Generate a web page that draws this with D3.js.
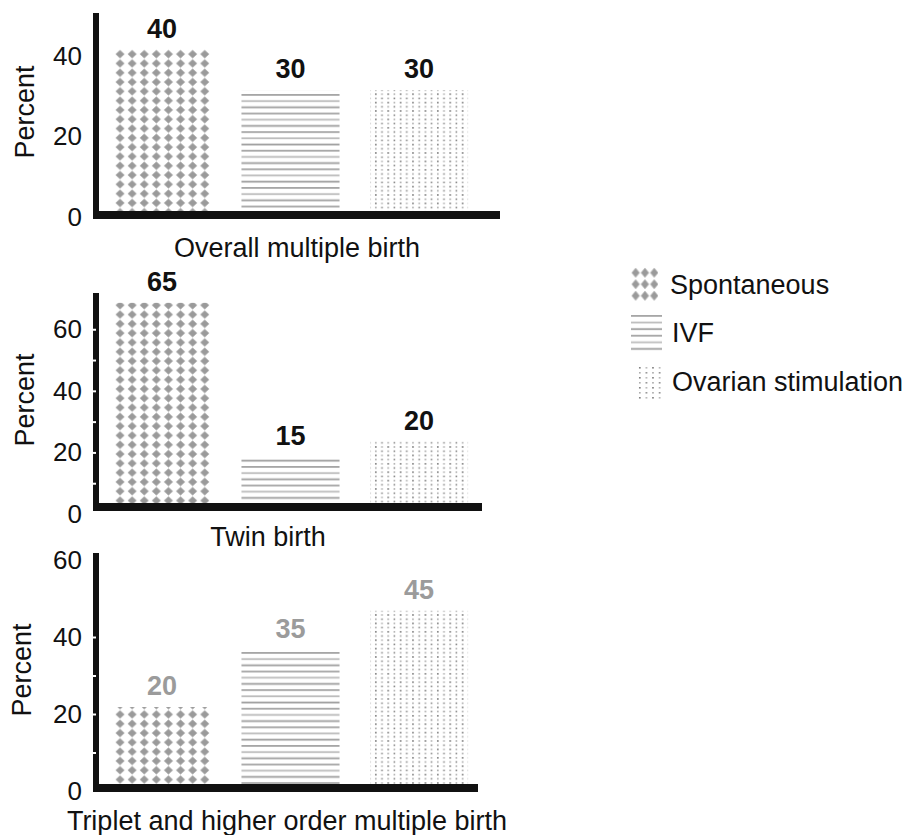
<!DOCTYPE html>
<html>
<head>
<meta charset="utf-8">
<script src="https://cdn.jsdelivr.net/npm/d3@7/dist/d3.min.js"></script>
<style>
  html, body { margin: 0; padding: 0; background: #ffffff; }
  svg { display: block; font-family: "Liberation Sans", Arial, Helvetica, sans-serif; }
</style>
</head>
<body>
<div id="chart"></div>
<script>
// Percent of births by conception type, three birth-order groups
const categories = ["Spontaneous", "IVF", "Ovarian stimulation"];
const overallValues = [40, 30, 30];
const twinValues = [65, 15, 20];
const tripletValues = [20, 35, 45];

const overallTicks = [0, 20, 40];
const twinTicks = [0, 20, 40, 60];
const tripletTicks = [0, 20, 40, 60];
const overallNotches = [];
const twinNotches = [10, 20, 30, 40, 50, 60];
const tripletNotches = [10, 20, 30, 40];

const panelTitles = ["Overall multiple birth", "Twin birth", "Triplet and higher order multiple birth"];
const axisTitle = "Percent";

const W = 914, H = 835;
const ink = "#111111";

const svg = d3.select("#chart").append("svg")
  .attr("width", W).attr("height", H);

// ---- fill patterns for the three conception types ----
const defs = svg.append("defs");

function diamondPattern(id, px, py, w, h, hw, hh) {
  const p = defs.append("pattern")
    .attr("id", id).attr("patternUnits", "userSpaceOnUse")
    .attr("x", px).attr("y", py).attr("width", w).attr("height", h);
  const cx = w / 2, cy = h / 2;
  p.append("path")
    .attr("d", `M${cx},${cy - hh} L${cx + hw},${cy} L${cx},${cy + hh} L${cx - hw},${cy} Z`)
    .attr("fill", "#9a9a9a")
    .attr("stroke", "#b4b4b4").attr("stroke-width", 0.8).attr("stroke-linejoin", "round");
}

// Spontaneous: grey diamond lattice (bars and legend key)
diamondPattern("pat-spont", 114, 49.5, 12.1, 9.3, 4.3, 3.9);
diamondPattern("pat-spont-key", 631, 267, 9.3, 11.5, 3.9, 4.6);

// IVF: thin horizontal rules
function rulePattern(id, y0, gap) {
  const p = defs.append("pattern")
    .attr("id", id).attr("patternUnits", "userSpaceOnUse")
    .attr("x", 0).attr("y", y0).attr("width", 20).attr("height", gap * 3);
  [["#a6a6a6", 0], ["#bcbcbc", gap], ["#9e9e9e", gap * 2]].forEach(([c, y]) => {
    p.append("rect").attr("x", 0).attr("y", y).attr("width", 20).attr("height", 1.8).attr("fill", c);
  });
}
rulePattern("pat-ivf", 1, 6.2);
rulePattern("pat-ivf-key", 315, 6.6);

// Ovarian stimulation: fine dot grid
function dotPattern(id, px, py, w, h) {
  const p = defs.append("pattern")
    .attr("id", id).attr("patternUnits", "userSpaceOnUse")
    .attr("x", px).attr("y", py).attr("width", w).attr("height", h);
  [[1, 1, "#7a7a7a"], [w / 2 + 1, 1, "#b0b0b0"], [1, h / 2 + 1, "#a8a8a8"], [w / 2 + 1, h / 2 + 1, "#8a8a8a"]]
    .forEach(([x, y, c]) => {
      p.append("rect").attr("x", x).attr("y", y).attr("width", 1.6).attr("height", 1.6).attr("fill", c);
    });
}
dotPattern("pat-ova", 374, 0, 12.4, 8.4);
dotPattern("pat-ova-key", 638, 366, 13.2, 10);

const fills = ["url(#pat-spont)", "url(#pat-ivf)", "url(#pat-ova)"];
const keyFills = ["url(#pat-spont-key)", "url(#pat-ivf-key)", "url(#pat-ova-key)"];

// ---- panel layout ----
const panels = [
  { values: overallValues, ticks: overallTicks, notches: overallNotches, title: panelTitles[0],
    base: 211, top: 13, max: 49.1, xEnd: 500, tickShift: 6, titleX: 297, titleY: 248,
    percentX: 25, percentY: 112, valueColor: ink },
  { values: twinValues, ticks: twinTicks, notches: twinNotches, title: panelTitles[1],
    base: 503, top: 293, max: 68.2, xEnd: 482, tickShift: 11, titleX: 268, titleY: 537,
    percentX: 25, percentY: 400, valueColor: ink },
  { values: tripletValues, ticks: tripletTicks, notches: tripletNotches, title: panelTitles[2],
    base: 784, top: 553, max: 60, xEnd: 478, tickShift: 7, titleX: 287, titleY: 821,
    percentX: 22, percentY: 670, valueColor: "#9b9b9b" }
];

const axisX = 93;          // left edge of the vertical axis bar
const axisW = 6;
const baseThick = 8;

const x = d3.scaleBand()
  .domain(categories)
  .range([97.5, 483.5])
  .paddingInner(0.237)
  .paddingOuter(0.12);

panels.forEach(p => {
  const g = svg.append("g");
  const y = d3.scaleLinear().domain([0, p.max]).range([p.base, p.top]);

  // bars
  g.selectAll("rect.bar")
    .data(categories.map((c, i) => ({ c, v: p.values[i], i })))
    .join("rect")
    .attr("class", "bar")
    .attr("x", d => x(d.c))
    .attr("width", x.bandwidth())
    .attr("y", d => y(d.v))
    .attr("height", d => y(0) - y(d.v))
    .attr("fill", d => fills[d.i]);

  // value labels
  g.selectAll("text.val")
    .data(categories.map((c, i) => ({ c, v: p.values[i] })))
    .join("text")
    .attr("class", "val")
    .attr("x", d => x(d.c) + x.bandwidth() / 2)
    .attr("y", d => y(d.v) - 21)
    .attr("dy", "0.35em")
    .attr("text-anchor", "middle")
    .attr("font-size", 27)
    .attr("font-weight", "bold")
    .attr("fill", p.valueColor)
    .text(d => d.v);

  // thick axis bars
  g.append("rect")
    .attr("x", axisX).attr("y", p.top)
    .attr("width", axisW).attr("height", p.base + baseThick - p.top)
    .attr("fill", ink);
  g.append("rect")
    .attr("x", axisX).attr("y", p.base)
    .attr("width", p.xEnd - axisX).attr("height", baseThick)
    .attr("fill", ink);

  // tick labels
  const axis = d3.axisLeft(y)
    .tickValues(p.ticks)
    .tickSize(0)
    .tickPadding(11)
    .tickFormat(d3.format("d"));
  const ag = g.append("g")
    .attr("transform", `translate(${axisX},${p.tickShift})`)
    .call(axis);
  ag.select(".domain").remove();
  ag.selectAll("text")
    .attr("font-size", 26)
    .attr("fill", ink)
    .attr("font-family", "'Liberation Sans', Arial, Helvetica, sans-serif");

  // small white notches cut into the vertical axis
  if (p.notches.length) {
    const ng = g.append("g")
      .attr("transform", `translate(${axisX},${p.tickShift})`)
      .call(d3.axisRight(y).tickValues(p.notches).tickSize(3).tickFormat(""));
    ng.select(".domain").remove();
    ng.selectAll("line").attr("stroke", "#ffffff").attr("stroke-width", 2);
  }

  // axis titles
  g.append("text")
    .attr("transform", `translate(${p.percentX},${p.percentY}) rotate(-90)`)
    .attr("dy", "0.35em")
    .attr("text-anchor", "middle")
    .attr("font-size", 27)
    .attr("fill", ink)
    .text(axisTitle);

  g.append("text")
    .attr("x", p.titleX).attr("y", p.titleY)
    .attr("dy", "0.35em")
    .attr("text-anchor", "middle")
    .attr("font-size", 27)
    .attr("fill", ink)
    .text(p.title);
});

// ---- legend ----
const legendItems = [
  { sx: 631, sy: 267, sw: 27, sh: 34, tx: 670, ty: 285 },
  { sx: 631, sy: 315, sw: 31, sh: 38, tx: 672, ty: 333 },
  { sx: 638, sy: 366, sw: 25, sh: 34, tx: 672, ty: 382 }
];
const lg = svg.append("g");
legendItems.forEach((it, i) => {
  lg.append("rect")
    .attr("x", it.sx).attr("y", it.sy)
    .attr("width", it.sw).attr("height", it.sh)
    .attr("fill", keyFills[i]);
  lg.append("text")
    .attr("x", it.tx).attr("y", it.ty)
    .attr("dy", "0.35em")
    .attr("font-size", 27)
    .attr("fill", ink)
    .text(categories[i]);
});
</script>
</body>
</html>
